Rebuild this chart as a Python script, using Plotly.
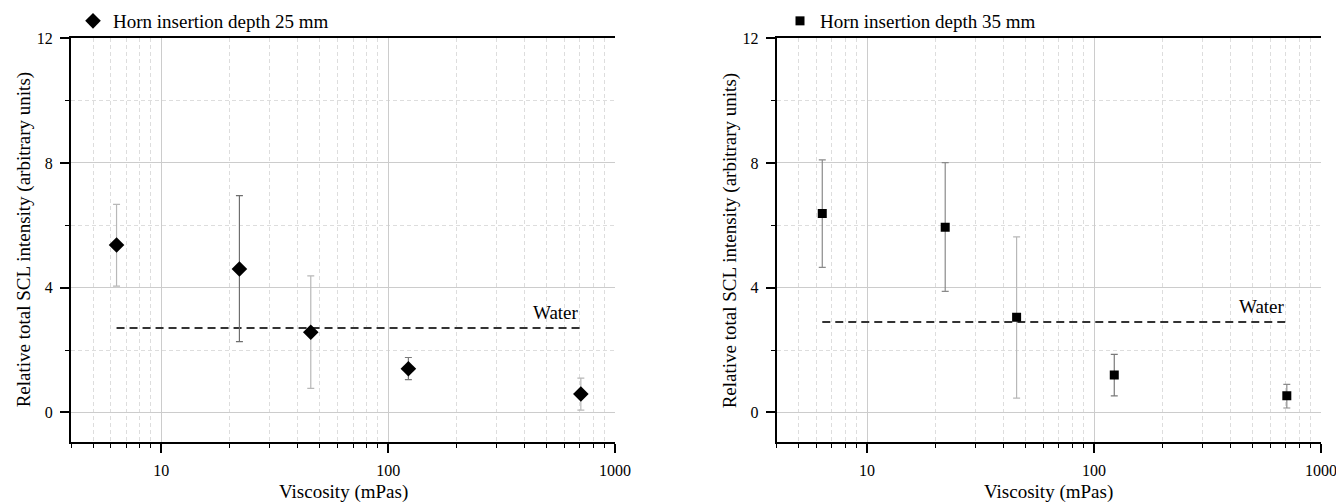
import math
import plotly.graph_objects as go

# ---------------- data ----------------
viscosity = [6.35, 22.1, 45.6, 122.8, 707.0]

sig_25 = [5.37, 4.60, 2.57, 1.40, 0.59]
sig_25_hi = [6.67, 6.95, 4.38, 1.76, 1.10]
sig_25_lo = [4.05, 2.27, 0.77, 1.05, 0.07]

sig_35 = [6.38, 5.94, 3.05, 1.20, 0.53]
sig_35_hi = [8.10, 8.01, 5.63, 1.86, 0.90]
sig_35_lo = [4.65, 3.88, 0.46, 0.53, 0.14]

water_25 = 2.71
water_35 = 2.90

series_names = ["Horn insertion depth 25 mm", "Horn insertion depth 35 mm"]
x_title = "Viscosity (mPas)"
y_title = "Relative total SCL intensity (arbitrary units)"
x_ticks = [10, 100, 1000]
x_ticklabels = ["10", "100", "1000"]
y_ticks = [0, 4, 8, 12]

# error-bar shades (style only)
err_colors_25 = ["#b8b8b8", "#6e6e6e", "#b8b8b8", "#7a7a7a", "#b8b8b8"]
err_colors_35 = ["#8a8a8a", "#8a8a8a", "#b8b8b8", "#7a7a7a", "#8a8a8a"]

FONT = "Liberation Serif"

fig = go.Figure()

def add_panel(xa, ya, vals, hi, lo, water, symbol, size, name, legend, ecols):
    fig.add_trace(go.Scatter(
        x=[viscosity[0], viscosity[-1]], y=[water, water],
        mode="lines", line=dict(color="#333333", width=2, dash="8px,5px"),
        xaxis=xa, yaxis=ya, showlegend=False, hoverinfo="skip"))
    for i, (xv, v, h, l) in enumerate(zip(viscosity, vals, hi, lo)):
        fig.add_trace(go.Scatter(
            x=[xv], y=[v], mode="markers",
            marker=dict(size=2, opacity=0, color="black"),
            error_y=dict(type="data", symmetric=False, array=[h - v],
                         arrayminus=[v - l], color=ecols[i],
                         thickness=1.2, width=3.5),
            xaxis=xa, yaxis=ya, showlegend=False, hoverinfo="skip"))
    fig.add_trace(go.Scatter(
        x=viscosity, y=vals, mode="markers",
        marker=dict(symbol=symbol, size=size, color="black"),
        xaxis=xa, yaxis=ya, name=name, legend=legend, showlegend=True))
    fig.add_annotation(x=math.log10(viscosity[-1]), y=water, xref=xa, yref=ya,
                       text="Water", showarrow=False, xanchor="right",
                       yanchor="bottom", yshift=3,
                       font=dict(family=FONT, size=19, color="black"))

add_panel("x", "y", sig_25, sig_25_hi, sig_25_lo, water_25, "diamond", 12,
          series_names[0], "legend", err_colors_25)
add_panel("x2", "y2", sig_35, sig_35_hi, sig_35_lo, water_35, "square", 9,
          series_names[1], "legend2", err_colors_35)

minor_x = [4, 5, 6, 7, 8, 9, 20, 30, 40, 50, 60, 70, 80, 90,
           200, 300, 400, 500, 600, 700, 800, 900]

xdomains = [[71 / 1336, 615 / 1336], [776.7 / 1336, 1321 / 1336]]
ydomain = [1 - 442.3 / 504, 1 - 38.3 / 504]

xcommon = dict(type="log", range=[0.602, 3.0], tickvals=x_ticks,
               ticktext=x_ticklabels, ticks="outside", ticklen=9,
               tickwidth=1.5, tickcolor="black", automargin=False,
               ticklabeloverflow="allow",
               showline=True, linecolor="black", linewidth=2, mirror=True,
               showgrid=True, gridcolor="#cccccc", gridwidth=1,
               zeroline=False, ticklabelstandoff=3,
               tickfont=dict(family=FONT, size=16, color="black"),
               minor=dict(tickmode="array", tickvals=minor_x, ticks="outside",
                          ticklen=4, tickwidth=1.2, tickcolor="black",
                          showgrid=True, gridcolor="#dddddd",
                          griddash="4px,3px", gridwidth=1))
ycommon = dict(range=[-0.96, 12], tickvals=y_ticks, ticks="outside",
               ticklen=9, tickwidth=1.5, tickcolor="black", automargin=False,
               ticklabeloverflow="allow",
               showline=True, linecolor="black", linewidth=2, mirror=False,
               showgrid=True, gridcolor="#cccccc", gridwidth=1,
               zeroline=False, ticklabelstandoff=4,
               tickfont=dict(family=FONT, size=16, color="black"),
               minor=dict(dtick=2, tick0=0, ticks="outside", ticklen=4,
                          tickwidth=1.2, tickcolor="black", showgrid=True,
                          gridcolor="#dddddd", griddash="4px,3px",
                          gridwidth=1))
yright = dict(range=[-0.96, 12], tickvals=[0, 4, 8], ticks="inside",
              ticklen=8, tickwidth=1.5, tickcolor="black", automargin=False,
              showline=True, linecolor="black", linewidth=2,
              showgrid=False, zeroline=False, showticklabels=False,
              side="right",
              minor=dict(dtick=2, tick0=0, ticks="inside", ticklen=4,
                         tickwidth=1.2, tickcolor="black", showgrid=False))

legend_common = dict(xanchor="left", yanchor="middle",
                     bgcolor="rgba(0,0,0,0)", itemwidth=30,
                     font=dict(family=FONT, size=19, color="black"))

fig.update_layout(
    width=1336, height=504,
    margin=dict(l=0, r=0, t=0, b=0, autoexpand=False),
    paper_bgcolor="white", plot_bgcolor="white",
    font=dict(family=FONT, color="black"),
    xaxis=dict(domain=xdomains[0], anchor="y", **xcommon),
    yaxis=dict(domain=ydomain, anchor="x", **ycommon),
    xaxis2=dict(domain=xdomains[1], anchor="y2", **xcommon),
    yaxis2=dict(domain=ydomain, anchor="x2", **ycommon),
    yaxis3=dict(overlaying="y", anchor="x", **yright),
    yaxis4=dict(overlaying="y2", anchor="x2", **yright),
    legend=dict(x=73 / 1336, y=1 - 21 / 504, **legend_common),
    legend2=dict(x=780 / 1336, y=1 - 21 / 504, **legend_common),
)

for xd in xdomains:
    fig.add_annotation(x=(xd[0] + xd[1]) / 2, y=1 - 492 / 504,
                       xref="paper", yref="paper", xanchor="center",
                       yanchor="middle", text=x_title, showarrow=False,
                       font=dict(family=FONT, size=19, color="black"))
for xc in [24 / 1336, 730 / 1336]:
    fig.add_annotation(x=xc, y=(ydomain[0] + ydomain[1]) / 2,
                       xref="paper", yref="paper", xanchor="center",
                       yanchor="middle", text=y_title,
                       textangle=-90, showarrow=False,
                       font=dict(family=FONT, size=19, color="black"))

fig.write_html("out.html")
